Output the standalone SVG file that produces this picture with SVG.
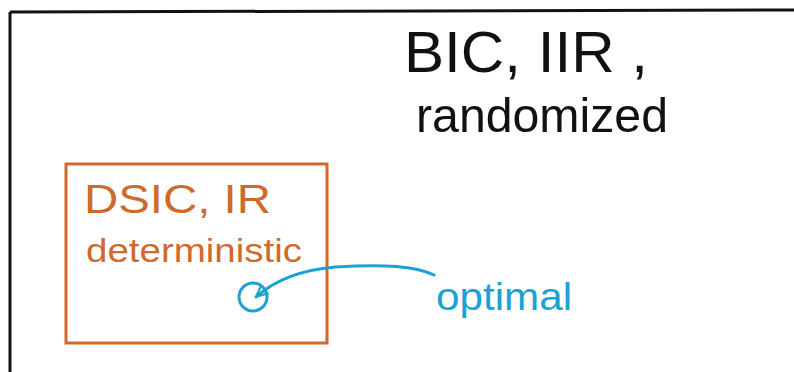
<svg xmlns="http://www.w3.org/2000/svg" width="794" height="372" viewBox="0 0 794 372">
<style>
.hand{font-family:"Liberation Sans","DejaVu Sans",sans-serif;}
.blk{fill:#111;}
.org{fill:#cf6a2c;}
.blu{fill:#1ba2d0;}
</style>
<defs>
<marker id="ah" viewBox="0 0 10 10" refX="9" refY="5" markerWidth="4.5" markerHeight="4.5" orient="auto" markerUnits="strokeWidth">
<path d="M0,1 L9,5 L0,9 Z" fill="none" stroke="#1ba2d0" stroke-width="1.6" stroke-linejoin="round"/>
</marker>
</defs>
<rect width="794" height="372" fill="#fff"/>
<g id="outer">
<path d="M10,12 L794,10 M10,12 L10,372" fill="none" stroke="#111" stroke-width="3"/>
<text class="hand blk" x="404" y="72" font-size="58" textLength="244" lengthAdjust="spacingAndGlyphs">BIC, IIR ,</text>
<text class="hand blk" x="416" y="132" font-size="48" textLength="252" lengthAdjust="spacingAndGlyphs">randomized</text>
</g>
<g id="dsic">
<rect x="66" y="164" width="261" height="179" fill="none" stroke="#cf6a2c" stroke-width="3"/>
<text class="hand org" x="84" y="213" font-size="40" textLength="187" lengthAdjust="spacingAndGlyphs">DSIC, IR</text>
<text class="hand org" x="86" y="262" font-size="34" textLength="216" lengthAdjust="spacingAndGlyphs">deterministic</text>
</g>
<g id="optimal-point">
<circle cx="253" cy="297" r="14" fill="none" stroke="#1ba2d0" stroke-width="3"/>
</g>
<g id="optimal-label">
<text class="hand blu" x="436" y="310" font-size="38" textLength="136" lengthAdjust="spacingAndGlyphs">optimal</text>
</g>
<g id="connectors">
<path d="M434,275 C415,266 385,264 335,267 C300,270 275,280 256,297" fill="none" stroke="#1ba2d0" stroke-width="3" stroke-linecap="round" marker-end="url(#ah)"/>
</g>
</svg>
